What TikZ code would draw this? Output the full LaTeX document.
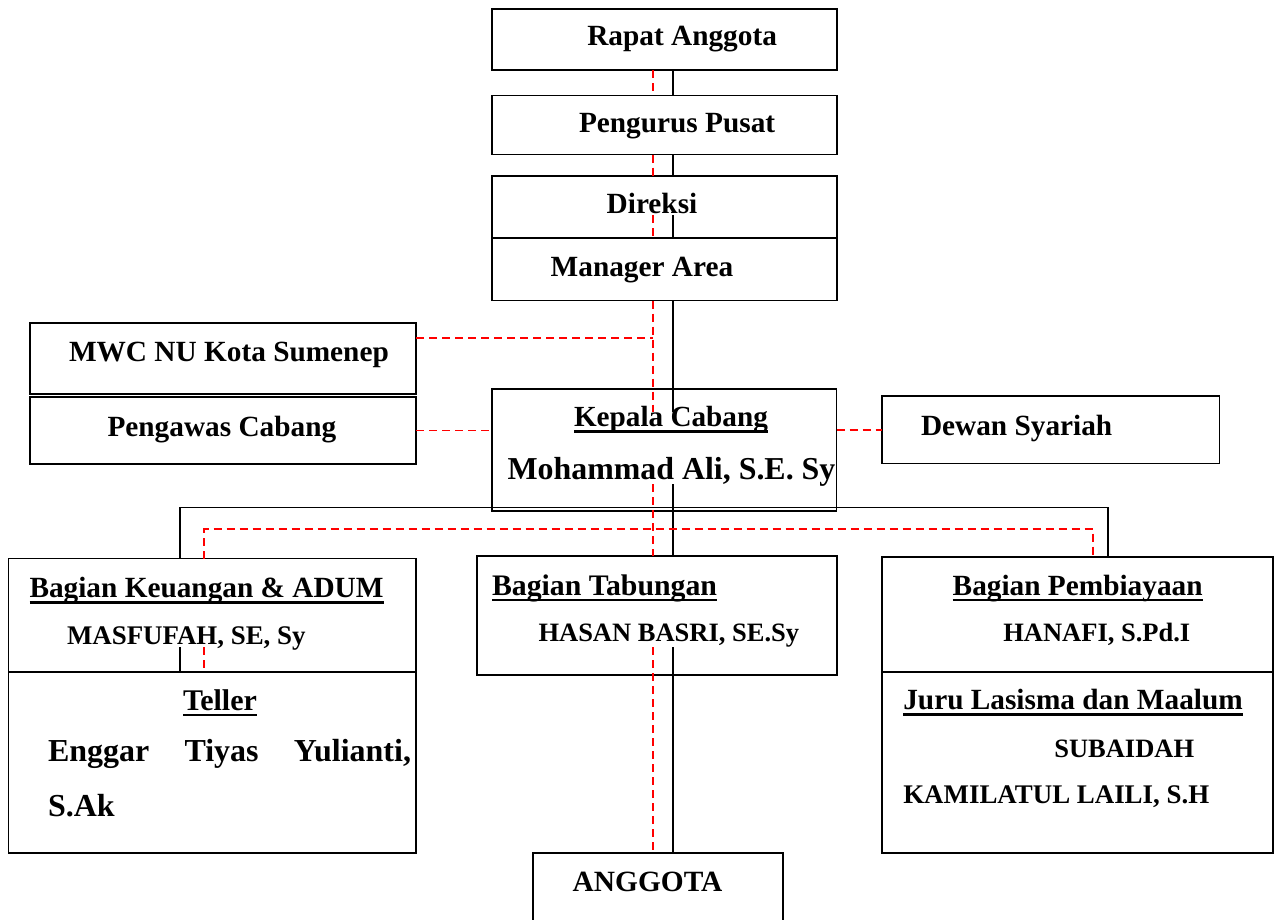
\documentclass[tikz,border=0pt]{standalone}
\usepackage{fontspec}
\setmainfont{Liberation Serif}
\newcommand\myul[1]{\setbox0\hbox{#1}\rlap{\vrule height -3.5pt depth 6.2pt width \wd0}\box0}
\begin{document}
\begin{tikzpicture}[x=1pt,y=-1pt,
  box/.style={draw=black, line width=1.8pt, inner sep=0pt, outer sep=0pt},
  blk/.style={draw=black, line width=1.8pt},
  blkthin/.style={draw=black, line width=1.4pt},
  rdash/.style={draw=red, line width=1.6pt, dash pattern=on 8pt off 5pt},
  txt/.style={inner sep=0pt, outer sep=0pt, anchor=base west, font=\bfseries\fontsize{29.3}{34}\selectfont},
  nm/.style={txt, font=\bfseries\fontsize{26.5}{31}\selectfont}]
\useasboundingbox (0,0) rectangle (1277,919);
\clip (0,0) rectangle (1277,919);

% boxes
\node[box, minimum width=344.4pt, minimum height=61pt] (rapat) at (664.5,39.5) {};
\node[box, minimum width=344.4pt, minimum height=59pt] (pengurus) at (664.5,125) {};
\node[box, minimum width=344.4pt, minimum height=62pt] (direksi) at (664.5,206.7) {};
\node[box, minimum width=344.4pt, minimum height=62.8pt] (manager) at (664.5,269.1) {};
\node[box, minimum width=386pt, minimum height=71.3pt] (mwc) at (223,358.35) {};
\node[box, minimum width=386pt, minimum height=67pt] (pengawas) at (223,430.5) {};
\node[box, minimum width=344.5pt, minimum height=122pt] (kepala) at (664.25,450) {};
\node[box, minimum width=337.5pt, minimum height=67.5pt] (dewan) at (1050.75,429.75) {};
\node[box, minimum width=407.5pt, minimum height=113.2pt] (keuangan) at (212.25,615.1) {};
\node[box, minimum width=407.5pt, minimum height=181.3pt] (teller) at (212.25,762.35) {};
\node[box, minimum width=360pt, minimum height=119pt] (tabungan) at (656.7,615.5) {};
\node[box, minimum width=391pt, minimum height=115pt] (pembiayaan) at (1077.2,614.2) {};
\node[box, minimum width=391pt, minimum height=181.6pt] (juru) at (1077.2,762.5) {};
\node[box, minimum width=250.6pt, minimum height=81.7pt] (anggota) at (658,894.15) {};

% texts
\node[txt] (tRapat) at (587.3,45.7) {Rapat Anggota};
\node[txt] (tPengurus) at (579,132.7) {Pengurus Pusat};
\node[txt] (tDireksi) at (606.7,213) {Direksi};
\node[txt] (tManager) at (550.7,276) {Manager Area};
\node[txt] (tMwc) at (69,361.7) {MWC NU Kota Sumenep};
\node[txt] (tPengawas) at (107.5,436) {Pengawas Cabang};
\node[txt, font=\bfseries\fontsize{29.2}{34}\selectfont] (tKepala) at (574,426.7) {\myul{Kepala Cabang}};
\node[txt, font=\bfseries\fontsize{31.9}{38}\selectfont] (tAli) at (507.5,479) {Mohammad Ali, S.E. Sy};
\node[txt] (tDewan) at (921,435) {Dewan Syariah};
\node[txt, font=\bfseries\fontsize{29.3}{34}\selectfont] (tKeu) at (29.5,597.3) {\myul{Bagian Keuangan \& ADUM}};
\node[nm, font=\bfseries\fontsize{26.9}{31}\selectfont] (tMasf) at (67,644) {MASFUFAH, SE, Sy};
\node[txt, font=\bfseries\fontsize{30}{35}\selectfont] (tTeller) at (183,710) {\myul{Teller}};
\node[txt, font=\bfseries\fontsize{32}{38}\selectfont] (tEnggar) at (48,761.7) {\hbox to 363pt{Enggar\hfill Tiyas\hfill Yulianti,}};
\node[txt, font=\bfseries\fontsize{32}{38}\selectfont] (tSak) at (48,816.7) {S.Ak};
\node[txt, font=\bfseries\fontsize{29.8}{35}\selectfont] (tTab) at (492,595) {\myul{Bagian Tabungan}};
\node[nm] (tHasan) at (538.5,641.7) {HASAN BASRI, SE.Sy};
\node[txt] (tPemb) at (952.7,595) {\myul{Bagian Pembiayaan}};
\node[nm] (tHanafi) at (1003.3,641.7) {HANAFI, S.Pd.I};
\node[txt] (tJuru) at (903.3,709.3) {\myul{Juru Lasisma dan Maalum}};
\node[nm] (tSub) at (1054.3,757.3) {SUBAIDAH};
\node[nm, font=\bfseries\fontsize{26.9}{31}\selectfont] (tKam) at (903.3,803.3) {KAMILATUL LAILI, S.H};
\node[txt, font=\bfseries\fontsize{29.4}{34}\selectfont] (tAng) at (572.7,891.7) {ANGGOTA};

% helper coordinates
\coordinate (bx) at (672.7,0);
\coordinate (rx) at (652.7,0);
\coordinate (dirIn) at (0,215);
\coordinate (kepTop) at (0,412);
\coordinate (kepBot) at (0,484);
\coordinate (secIn) at (0,647);
\coordinate (mwcLvl) at (0,338);
\coordinate (hb) at (0,507.5);
\coordinate (hr) at (0,529);
\coordinate (kL) at (180,0);
\coordinate (kR) at (1108,0);
\coordinate (rL) at (204,0);
\coordinate (rR) at (1093,0);

% black connectors
\draw[blk] (rapat.south -| bx) -- (pengurus.north -| bx);
\draw[blk] (pengurus.south -| bx) -- (direksi.north -| bx);
\draw[blk] (bx |- dirIn) -- (manager.north -| bx);
\draw[blk] (manager.south -| bx) -- (bx |- kepTop);
\draw[blk] (bx |- kepBot) -- (tabungan.north -| bx);
\draw[blkthin] (keuangan.north -| kL) -- (kL |- hb) -- (kR |- hb) -- (pembiayaan.north -| kR);
\draw[blk] (kL |- secIn) -- (teller.north -| kL);
\draw[blk] (bx |- secIn) -- (anggota.north -| bx);

% red dashed connectors
\draw[rdash] (rapat.south -| rx) -- (pengurus.north -| rx);
\draw[rdash] (pengurus.south -| rx) -- (direksi.north -| rx);
\draw[rdash] (rx |- dirIn) -- (manager.north -| rx);
\draw[rdash] (manager.south -| rx) -- (rx |- kepTop);
\draw[rdash] (rx |- kepBot) -- (tabungan.north -| rx);
\draw[rdash] (mwc.east |- mwcLvl) -- (rx |- mwcLvl);
\draw[rdash] (pengawas.east) -- (pengawas.east -| kepala.west);
\draw[rdash] (dewan.west -| kepala.east) -- (dewan.west);
\draw[rdash] (keuangan.north -| rL) -- (rL |- hr) -- (rR |- hr) -- (pembiayaan.north -| rR);
\draw[rdash] (rL |- secIn) -- (teller.north -| rL);
\draw[rdash] (rx |- secIn) -- (anggota.north -| rx);
\end{tikzpicture}
\end{document}
